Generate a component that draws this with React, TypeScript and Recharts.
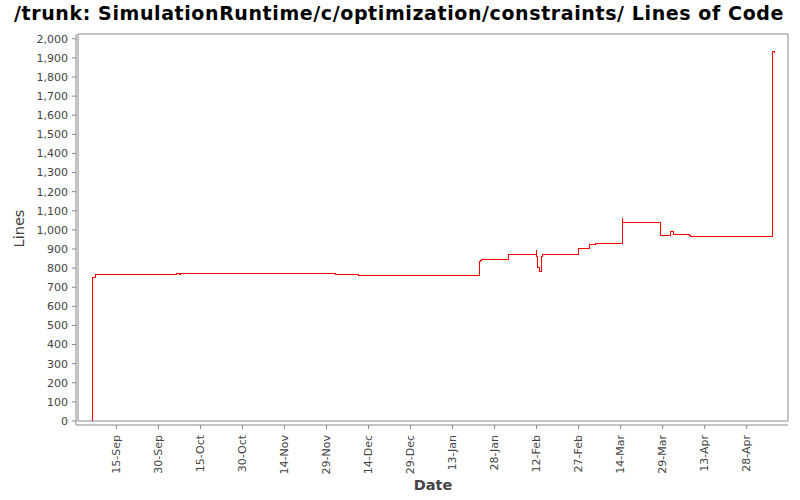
import React from 'react';
import { LineChart, Line, XAxis, YAxis, ReferenceArea } from 'recharts';

const changeTimes = [
  '2010-09-06T00:00', '2010-09-06T15:00', '2010-09-07T17:00', '2010-10-06T14:00',
  '2010-10-07T12:00', '2010-10-07T17:00', '2010-12-02T02:00', '2010-12-10T14:00',
  '2011-01-22T12:00', '2011-01-22T22:00', '2011-01-23T12:00', '2011-02-01T22:00',
  '2011-02-11T19:00', '2011-02-11T23:00', '2011-02-12T05:00', '2011-02-12T22:00',
  '2011-02-13T14:00', '2011-02-14T00:00', '2011-02-26T22:00', '2011-03-02T19:00',
  '2011-03-04T22:00', '2011-03-14T14:00', '2011-03-14T19:00', '2011-03-28T02:00',
  '2011-03-31T17:00', '2011-04-01T17:00', '2011-04-07T12:00', '2011-04-08T00:00',
  '2011-05-07T02:00', '2011-05-07T22:00',
];
const lineCounts = [
  0, 752, 768, 773,
  766, 773, 769, 762,
  832, 841, 846, 872,
  894, 860, 804, 783,
  863, 872, 903, 924,
  931, 1060, 1039, 971,
  992, 978, 971, 966,
  1932, 1927,
];
const xTickDates = [
  '2010-09-15', '2010-09-30', '2010-10-15', '2010-10-30', '2010-11-14', '2010-11-29',
  '2010-12-14', '2010-12-29', '2011-01-13', '2011-01-28', '2011-02-12', '2011-02-27',
  '2011-03-14', '2011-03-29', '2011-04-13', '2011-04-28',
];
const yTickValues = [
  0, 100, 200, 300, 400, 500, 600, 700, 800, 900, 1000,
  1100, 1200, 1300, 1400, 1500, 1600, 1700, 1800, 1900, 2000,
];
const X_START = '2010-09-01T07:00';
const X_END = '2011-05-12T18:00';
const Y_MAX = 2025;
const MONTHS = ['Jan', 'Feb', 'Mar', 'Apr', 'May', 'Jun', 'Jul', 'Aug', 'Sep', 'Oct', 'Nov', 'Dec'];

const toMs = (s: string) => Date.parse((s.length === 10 ? s + 'T00:00' : s) + ':00Z');

const data = changeTimes.map((t, i) => ({ t: toMs(t), loc: lineCounts[i] }));
const xTicks = xTickDates.map(toMs);
const xMin = toMs(X_START);
const xMax = toMs(X_END);

const fmtDate = (ms: number) => {
  const d = new Date(ms);
  return `${d.getUTCDate()}-${MONTHS[d.getUTCMonth()]}`;
};
const fmtNum = (v: number) => v.toLocaleString('en-US');

const FONT = 'DejaVu Sans';
const GRAY = '#888888';
const TEXT = '#444444';

const XTick = (props: any) => {
  const { x, y, payload } = props;
  return (
    <text
      transform={`translate(${x + 3.5},${y + 6}) rotate(-90)`}
      textAnchor="end"
      fontSize={11}
      fontFamily={FONT}
      fill={TEXT}
    >
      {fmtDate(payload.value)}
    </text>
  );
};

const YLabel = (props: any) => {
  const vb = props.viewBox || { x: 0, y: 34, width: 76, height: 391 };
  const cx = vb.x + 23.5;
  const cy = vb.y + (vb.height - 4) / 2 + 1;
  return (
    <text
      transform={`translate(${cx},${cy}) rotate(-90)`}
      textAnchor="middle"
      fontSize={14.5}
      fontFamily={FONT}
      fill={TEXT}
    >
      Lines
    </text>
  );
};

const XLabel = (props: any) => {
  const vb = props.viewBox || { x: 76, y: 425, width: 712, height: 75 };
  return (
    <text
      x={vb.x + 2 + (vb.width - 2) / 2}
      y={vb.y + 65}
      textAnchor="middle"
      fontSize={14.5}
      fontWeight="bold"
      fontFamily={FONT}
      fill={TEXT}
    >
      Date
    </text>
  );
};

export default function App() {
  return (
    <div style={{ position: 'absolute', left: 0, top: 0, width: 800, height: 500, background: '#ffffff' }}>
      <svg width={800} height={30} style={{ position: 'absolute', left: 0, top: 0 }}>
        <text
          x={399}
          y={19.5}
          textAnchor="middle"
          fontSize={19}
          fontWeight="bold"
          letterSpacing={0.6}
          fontFamily={FONT}
          fill="#000000"
        >
          /trunk: SimulationRuntime/c/optimization/constraints/ Lines of Code
        </text>
      </svg>
      <LineChart width={800} height={500} data={data} margin={{ top: 34, right: 12, bottom: 0, left: 0 }}>
        <XAxis
          dataKey="t"
          type="number"
          domain={[xMin, xMax]}
          ticks={xTicks}
          interval={0}
          allowDataOverflow
          height={75}
          padding={{ left: 2, right: 0 }}
          tickSize={4}
          tickMargin={0}
          axisLine={{ stroke: GRAY }}
          tickLine={{ stroke: GRAY }}
          tick={<XTick />}
          label={{ content: <XLabel /> }}
        />
        <YAxis
          type="number"
          domain={[0, Y_MAX]}
          ticks={yTickValues}
          interval={0}
          allowDataOverflow
          width={76}
          padding={{ top: 0, bottom: 4 }}
          tickSize={4}
          tickMargin={4}
          axisLine={{ stroke: GRAY }}
          tickLine={{ stroke: GRAY }}
          tick={{ fill: TEXT, fontSize: 11, fontFamily: FONT }}
          tickFormatter={fmtNum}
          label={{ content: <YLabel /> }}
        />
        <ReferenceArea
          x1={xMin}
          x2={xMax}
          y1={0}
          y2={Y_MAX}
          fill="none"
          fillOpacity={0}
          stroke={GRAY}
          strokeWidth={1}
          ifOverflow="visible"
        />
        <Line
          type="stepAfter"
          dataKey="loc"
          stroke="#ff0000"
          strokeWidth={1}
          shapeRendering="crispEdges"
          dot={false}
          activeDot={false}
          isAnimationActive={false}
        />
      </LineChart>
    </div>
  );
}
